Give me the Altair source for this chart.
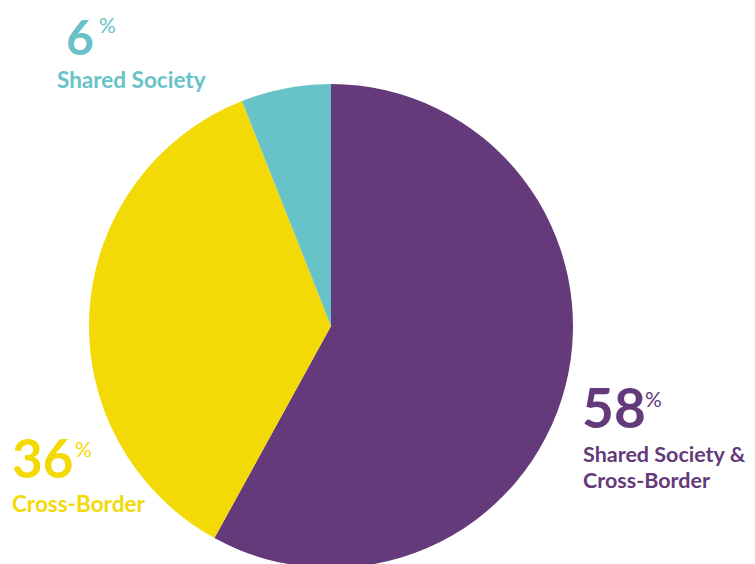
import altair as alt
import pandas as pd

categories = ["Shared Society & Cross-Border", "Cross-Border", "Shared Society"]
shares = [58, 36, 6]
colors = ["#643A7A", "#F3DA06", "#67C3C8"]
order = [1, 2, 3]

df = pd.DataFrame({"category": categories, "share": shares, "ord": order,
                   "pct": [str(s) for s in shares]})

FONT = "Lato"

pie = alt.Chart(df).mark_arc(radius=242, stroke=None).encode(
    theta=alt.Theta("share:Q", stack=True),
    order=alt.Order("ord:Q"),
    color=alt.Color("category:N", scale=alt.Scale(domain=categories, range=colors), legend=None),
    x=alt.value(323),
    y=alt.value(318),
)

def label(cat, color, nx, ny, px, py, lines, lx, ly, big=55, small=22.5):
    base = alt.Chart(df).transform_filter(alt.datum.category == cat)
    num = base.mark_text(align="left", baseline="alphabetic", font=FONT, fontWeight="bold",
                         fontSize=big, color=color).encode(
        text="pct:N", x=alt.value(nx), y=alt.value(ny))
    pc = base.mark_text(align="left", baseline="alphabetic", font=FONT, fontWeight="normal",
                        fontSize=21, color=color).encode(
        text=alt.value("%"), x=alt.value(px), y=alt.value(py))
    txt = base.mark_text(align="left", baseline="alphabetic", font=FONT, fontWeight="bold",
                         fontSize=small, color=color, lineHeight=26).encode(
        text=alt.value(lines), x=alt.value(lx), y=alt.value(ly))
    return [num, pc, txt]

layers = [pie]
layers += label("Shared Society", colors[2], 58, 47, 91, 25, "Shared Society", 49, 80, big=48)
layers += label("Shared Society & Cross-Border", colors[0], 574, 420, 637, 399,
                ["Shared Society &", "Cross-Border"], 575, 454, small=21.5)
layers += label("Cross-Border", colors[1], 4, 470, 67, 449, "Cross-Border", 4, 504, big=53)

chart = alt.layer(*layers).properties(
    width=739, height=560, padding=0,
    autosize=alt.AutoSizeParams(type="none"),
).configure_view(stroke=None)

chart.save("out.html", embed_options={"renderer": "svg", "actions": False})
